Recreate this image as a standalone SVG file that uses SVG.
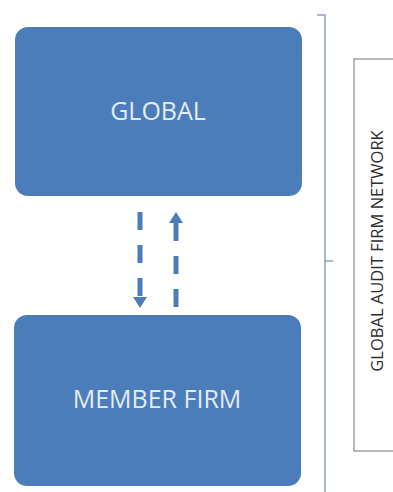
<svg xmlns="http://www.w3.org/2000/svg" width="393" height="492" viewBox="0 0 393 492">
<style>
.box{fill:#4a7dba;}
.lbl{font-family:"Open Sans","Liberation Sans",sans-serif;fill:#e4ebf4;text-anchor:middle;font-size:25px;}
.conn{stroke:#4a7dba;stroke-width:5;stroke-dasharray:18 15;fill:none;}
.brk{stroke:#8fa2b6;stroke-width:1.5;fill:none;}
</style>
<defs>
<marker id="ah" viewBox="0 0 10 10" refX="0" refY="5" markerWidth="11" markerHeight="14" preserveAspectRatio="none" markerUnits="userSpaceOnUse" orient="auto">
<path d="M0,0 L10,5 L0,10 z" fill="#4a7dba"/>
</marker>
</defs>
<rect width="393" height="492" fill="#ffffff"/>
<g id="global">
<rect class="box" x="15" y="27" width="287" height="169" rx="13"/>
<text class="lbl" x="158" y="120">GLOBAL</text>
</g>
<g id="member-firm">
<rect class="box" x="14" y="315" width="287" height="171" rx="13"/>
<text class="lbl" x="157" y="408">MEMBER FIRM</text>
</g>
<g id="connectors">
<line class="conn" x1="140" y1="212" x2="140" y2="297" marker-end="url(#ah)"/>
<line class="conn" x1="176" y1="307" x2="176" y2="223" marker-end="url(#ah)"/>
</g>
<g id="bracket">
<path class="brk" d="M317,15 H325 V492 M325,261 H333"/>
</g>
<g id="network">
<rect x="354" y="59" width="60" height="392" fill="#ffffff" stroke="#8a8a8a" stroke-width="1.2"/>
<text transform="translate(383,251) rotate(-90)" font-family="Open Sans, Liberation Sans, sans-serif" font-size="16.5" fill="#2e2e2e" text-anchor="middle">GLOBAL AUDIT FIRM NETWORK</text>
</g>
</svg>
